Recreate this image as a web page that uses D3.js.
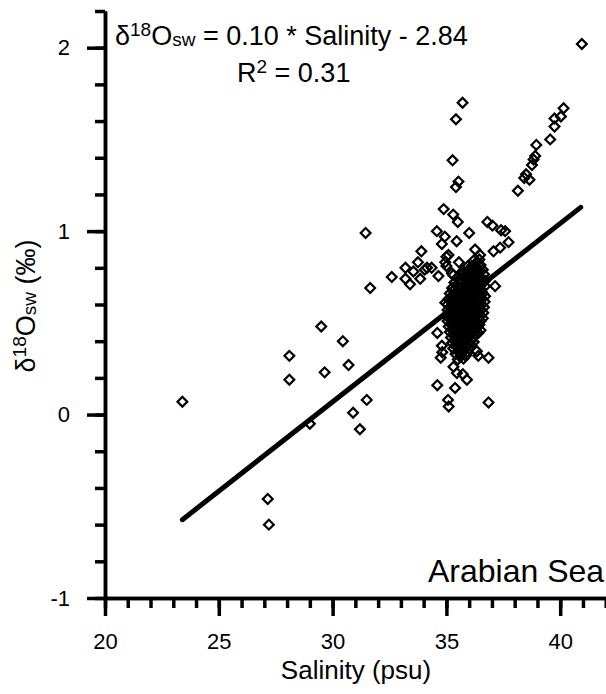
<!DOCTYPE html>
<html>
<head>
<meta charset="utf-8">
<script src="https://cdn.jsdelivr.net/npm/d3@7.9.0/dist/d3.min.js"></script>
<style>
  html, body { margin: 0; padding: 0; background: #fff; }
  svg { display: block; font-family: "Liberation Sans", Arial, sans-serif; }
</style>
</head>
<body>
<svg id="chart" width="606" height="694"></svg>
<script>
// [salinity, d18O] pairs
const lowSalinityPts = [
  [23.4, 0.07], [27.15, -0.46], [27.2, -0.60], [28.1, 0.32], [28.1, 0.19],
  [29.0, -0.05], [29.5, 0.48], [29.65, 0.23], [30.45, 0.40], [30.7, 0.27],
  [30.9, 0.01], [31.2, -0.08], [31.5, 0.08], [31.45, 0.99], [31.65, 0.69]
];

const upperPts = [
  [32.6, 0.75], [33.2, 0.80], [33.2, 0.74], [33.4, 0.71], [33.55, 0.78],
  [33.75, 0.83], [33.85, 0.74], [33.9, 0.89], [34.05, 0.79], [34.15, 0.80],
  [34.35, 0.80], [34.65, 0.755], [34.58, 1.00], [34.8, 0.93], [34.93, 0.97],
  [34.88, 1.12], [35.3, 1.09], [35.5, 1.05], [35.45, 0.945], [36.0, 0.99],
  [36.8, 1.05], [37.02, 1.03], [37.4, 1.005], [37.58, 1.00], [37.73, 0.94],
  [37.36, 0.91], [37.07, 0.89], [36.26, 0.90], [36.48, 0.87], [35.0, 0.86],
  [35.09, 0.87], [34.95, 0.83], [35.55, 0.83], [35.0, 0.81], [35.3, 0.76],
  [35.24, 0.77], [35.75, 0.77], [36.12, 0.81], [37.14, 0.70], [34.95, 0.61],
  [35.71, 1.70], [35.42, 1.61], [35.27, 1.386], [35.53, 1.27], [35.42, 1.24]
];

const rightBranchPts = [
  [40.95, 2.02], [40.15, 1.67], [40.03, 1.625], [39.75, 1.614], [39.75, 1.57],
  [39.56, 1.50], [38.95, 1.47], [38.9, 1.41], [38.83, 1.39], [38.76, 1.36],
  [38.5, 1.31], [38.42, 1.29], [38.65, 1.28], [38.14, 1.22]
];

const lowerPts = [
  [34.6, 0.445], [34.82, 0.34], [34.75, 0.31], [34.8, 0.375], [36.34, 0.345],
  [36.4, 0.32], [36.85, 0.31], [35.31, 0.26], [35.46, 0.226], [35.72, 0.22],
  [35.9, 0.19], [34.6, 0.16], [35.38, 0.145], [35.07, 0.08], [35.1, 0.044],
  [36.85, 0.066]
];

const corePts = [
  [36.2, 0.84], [36.45, 0.845],
  [35.95, 0.81], [36.25, 0.805], [36.5, 0.815],
  [35.7, 0.78], [35.95, 0.785], [36.2, 0.775], [36.45, 0.78],
  [35.5, 0.75], [35.75, 0.745], [36.0, 0.755], [36.25, 0.75], [36.5, 0.745],
  [35.35, 0.72], [35.6, 0.725], [35.85, 0.715], [36.1, 0.72], [36.35, 0.725], [36.6, 0.715],
  [35.25, 0.69], [35.5, 0.695], [35.75, 0.685], [36.0, 0.69], [36.25, 0.695], [36.5, 0.685],
  [35.15, 0.66], [35.4, 0.665], [35.65, 0.655], [35.9, 0.66], [36.15, 0.665], [36.4, 0.655], [36.6, 0.66],
  [35.1, 0.63], [35.35, 0.635], [35.6, 0.625], [35.85, 0.63], [36.1, 0.635], [36.35, 0.625], [36.55, 0.63],
  [35.05, 0.60], [35.3, 0.605], [35.55, 0.595], [35.8, 0.60], [36.05, 0.605], [36.3, 0.595], [36.55, 0.60],
  [35.05, 0.57], [35.25, 0.575], [35.5, 0.565], [35.75, 0.57], [36.0, 0.575], [36.25, 0.565], [36.5, 0.57],
  [35.0, 0.54], [35.25, 0.545], [35.5, 0.535], [35.75, 0.54], [36.0, 0.545], [36.25, 0.535], [36.5, 0.54],
  [35.05, 0.51], [35.3, 0.515], [35.55, 0.505], [35.8, 0.51], [36.05, 0.515], [36.3, 0.505], [36.5, 0.51],
  [35.1, 0.48], [35.35, 0.485], [35.6, 0.475], [35.85, 0.48], [36.1, 0.485], [36.35, 0.475],
  [35.15, 0.45], [35.4, 0.455], [35.65, 0.445], [35.9, 0.45], [36.15, 0.455], [36.4, 0.445],
  [35.2, 0.42], [35.45, 0.425], [35.7, 0.415], [35.95, 0.42], [36.2, 0.425],
  [35.25, 0.39], [35.5, 0.395], [35.75, 0.385], [36.0, 0.39], [36.2, 0.395],
  [35.3, 0.36], [35.55, 0.365], [35.8, 0.355], [36.0, 0.36],
  [35.4, 0.33], [35.65, 0.335], [35.85, 0.325],
  [35.5, 0.30], [35.75, 0.305]
];

// second layer of the dense core, sitting between the first
const coreFillPts = [
  [36.3, 0.825], [36.1, 0.795], [36.35, 0.795], [36.6, 0.79],
  [35.85, 0.765], [36.1, 0.76], [36.35, 0.765], [36.65, 0.765],
  [35.6, 0.735], [35.9, 0.73], [36.15, 0.735], [36.4, 0.735], [36.7, 0.73],
  [35.45, 0.705], [35.7, 0.70], [35.95, 0.705], [36.2, 0.70], [36.45, 0.71], [36.7, 0.70],
  [35.3, 0.675], [35.55, 0.68], [35.8, 0.67], [36.05, 0.675], [36.3, 0.68], [36.55, 0.67],
  [35.25, 0.645], [35.5, 0.65], [35.75, 0.64], [36.0, 0.645], [36.25, 0.65], [36.5, 0.64], [36.7, 0.645],
  [35.2, 0.615], [35.45, 0.62], [35.7, 0.61], [35.95, 0.615], [36.2, 0.62], [36.45, 0.61], [36.68, 0.615],
  [35.15, 0.585], [35.4, 0.59], [35.65, 0.58], [35.9, 0.585], [36.15, 0.59], [36.4, 0.58], [36.65, 0.585],
  [35.12, 0.555], [35.38, 0.56], [35.62, 0.55], [35.88, 0.555], [36.12, 0.56], [36.38, 0.55], [36.62, 0.555],
  [35.15, 0.525], [35.4, 0.53], [35.65, 0.52], [35.9, 0.525], [36.15, 0.53], [36.4, 0.52], [36.6, 0.525],
  [35.2, 0.495], [35.45, 0.50], [35.7, 0.49], [35.95, 0.495], [36.2, 0.50], [36.45, 0.49],
  [35.25, 0.465], [35.5, 0.47], [35.75, 0.46], [36.0, 0.465], [36.25, 0.47], [36.5, 0.46],
  [35.3, 0.435], [35.55, 0.44], [35.8, 0.43], [36.05, 0.435], [36.3, 0.44],
  [35.35, 0.405], [35.6, 0.41], [35.85, 0.40], [36.1, 0.405],
  [35.4, 0.375], [35.65, 0.38], [35.9, 0.37], [36.1, 0.375],
  [35.5, 0.345], [35.75, 0.35], [35.95, 0.34],
  [35.6, 0.315], [35.85, 0.32]
];

// regression line
const fitSlope = 0.0973;
const fitIntercept = -2.85;
const fitRange = [23.4, 40.9];

const xMajor = [20, 25, 30, 35, 40];
const xMinor = d3.range(20, 43, 1);
const yMajor = [-1, 0, 1, 2];
const yMinor = d3.range(-1, 2.21, 0.2);

const svg = d3.select('#chart');

const x = d3.scaleLinear().domain([20, 42.1]).range([105, 608]);
const y = d3.scaleLinear().domain([-1, 2.2]).range([598, 11]);

// axes
svg.append('g').attr('transform', 'translate(0,598)')
  .call(d3.axisBottom(x).tickValues(xMinor).tickSize(10).tickSizeOuter(0).tickFormat(''));
svg.append('g').attr('transform', 'translate(0,598)')
  .call(d3.axisBottom(x).tickValues(xMajor).tickSize(18).tickSizeOuter(0).tickPadding(17)
    .tickFormat((d) => String(d)));
svg.append('g').attr('transform', 'translate(105,0)')
  .call(d3.axisLeft(y).tickValues(yMinor).tickSize(10).tickSizeOuter(0).tickFormat(''));
svg.append('g').attr('transform', 'translate(105,0)')
  .call(d3.axisLeft(y).tickValues(yMajor).tickSize(18).tickSizeOuter(0).tickPadding(17)
    .tickFormat((d) => String(d)));

svg.selectAll('.domain, .tick line')
  .attr('stroke', '#000')
  .attr('stroke-width', 3.5);
svg.selectAll('.tick text')
  .attr('fill', '#000')
  .style('font-size', '22px')
  .style('font-family', '"Liberation Sans", Arial, sans-serif');

// regression line
svg.append('line')
  .attr('x1', x(fitRange[0]))
  .attr('y1', y(fitSlope * fitRange[0] + fitIntercept))
  .attr('x2', x(fitRange[1]))
  .attr('y2', y(fitSlope * fitRange[1] + fitIntercept))
  .attr('stroke', '#000')
  .attr('stroke-width', 5)
  .attr('stroke-linecap', 'round');

// points
let allPts = [...lowSalinityPts, ...upperPts, ...rightBranchPts, ...lowerPts, ...corePts, ...coreFillPts];
let diamond = d3.symbol().type(d3.symbolSquare).size(48);

svg.append('g')
  .selectAll('path')
  .data(allPts)
  .join('path')
  .attr('d', diamond)
  .attr('transform', (d) => `translate(${x(d[0])},${y(d[1])}) rotate(45)`)
  .attr('fill', 'none')
  .attr('stroke', '#000')
  .attr('stroke-width', 2.2);

// equation text
let eq = svg.append('text').attr('x', 115).attr('y', 45).style('font-size', '27px');
eq.append('tspan').text('δ');
eq.append('tspan').attr('dy', -9).style('font-size', '19px').text('18');
eq.append('tspan').attr('dy', 9).text('O');
eq.append('tspan').attr('dy', 1).style('font-size', '19px').text('sw');
eq.append('tspan').attr('dy', -1).text(' = 0.10 * Salinity - 2.84');

let r2 = svg.append('text').attr('x', 237).attr('y', 82).style('font-size', '27px');
r2.append('tspan').text('R');
r2.append('tspan').attr('dy', -9).style('font-size', '19px').text('2');
r2.append('tspan').attr('dy', 9).text(' = 0.31');

svg.append('text')
  .attr('x', 428).attr('y', 582)
  .style('font-size', '32px')
  .text('Arabian Sea');

// axis titles
svg.append('text')
  .attr('x', 356).attr('y', 679)
  .attr('text-anchor', 'middle')
  .style('font-size', '26px')
  .text('Salinity (psu)');

let yl = svg.append('text')
  .attr('transform', 'translate(35,306) rotate(-90)')
  .attr('text-anchor', 'middle')
  .style('font-size', '27px');
yl.append('tspan').text('δ');
yl.append('tspan').attr('dy', -9).style('font-size', '19px').text('18');
yl.append('tspan').attr('dy', 9).text('O');
yl.append('tspan').attr('dy', 1).style('font-size', '19px').text('sw');
yl.append('tspan').attr('dy', -1).text(' (‰)');
</script>
</body>
</html>
